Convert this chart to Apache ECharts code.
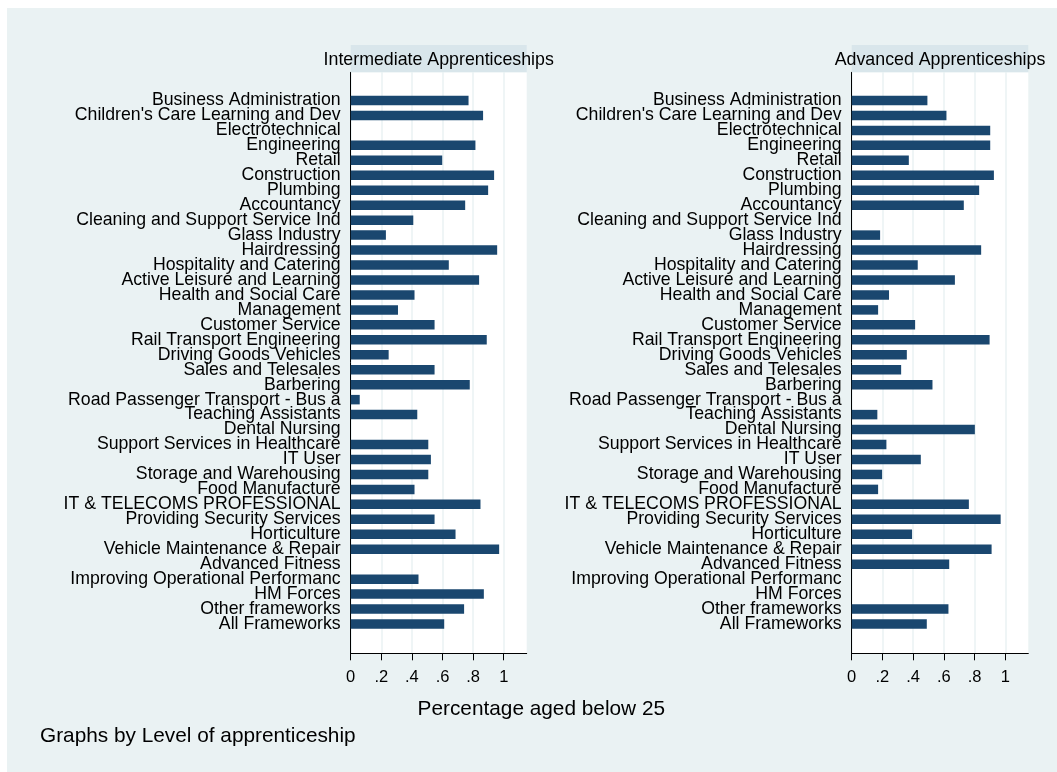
<!DOCTYPE html>
<html>
<head>
<meta charset="utf-8">
<script src="https://cdn.jsdelivr.net/npm/echarts@6/dist/echarts.min.js"></script>
<style>
html,body{margin:0;padding:0;background:#fff;}
#chart{width:1057px;height:772px;}
</style>
</head>
<body>
<div id="chart"></div>
<script>
const categories = [
  "Business Administration","Children's Care Learning and Dev","Electrotechnical","Engineering","Retail",
  "Construction","Plumbing","Accountancy","Cleaning and Support Service Ind","Glass Industry",
  "Hairdressing","Hospitality and Catering","Active Leisure and Learning","Health and Social Care","Management",
  "Customer Service","Rail Transport Engineering","Driving Goods Vehicles","Sales and Telesales","Barbering",
  "Road Passenger Transport - Bus a","Teaching Assistants","Dental Nursing","Support Services in Healthcare","IT User",
  "Storage and Warehousing","Food Manufacture","IT & TELECOMS PROFESSIONAL","Providing Security Services","Horticulture",
  "Vehicle Maintenance & Repair","Advanced Fitness","Improving Operational Performanc","HM Forces","Other frameworks",
  "All Frameworks"
];
const intermediate = [
  0.770,0.865,null,0.815,0.598,
  0.937,0.898,0.748,0.409,0.230,
  0.957,0.641,0.839,0.417,0.309,
  0.548,0.889,0.248,0.548,0.778,
  0.059,0.435,null,0.507,0.524,
  0.507,0.417,0.848,0.548,0.685,
  0.970,null,0.443,0.870,0.741,
  0.611
];
const advanced = [
  0.493,0.617,0.902,0.902,0.372,
  0.926,0.830,0.730,null,0.185,
  0.843,0.430,0.672,0.243,0.172,
  0.413,0.898,0.359,0.322,0.526,
  null,0.167,0.802,0.226,0.450,
  0.198,0.172,0.763,0.970,0.393,
  0.911,0.635,null,null,0.630,
  0.489
];
const panelTitles = ["Intermediate Apprenticeships","Advanced Apprenticeships"];
const tickValues = [0,0.2,0.4,0.6,0.8,1];
const tickLabels = ["0",".2",".4",".6",".8","1"];
const xTitle = "Percentage aged below 25";
const note = "Graphs by Level of apprenticeship";

const FONT = "'Liberation Sans', Arial, Helvetica, sans-serif";
const BAR = '#1a476f';
const BG = '#eaf2f3';
const STRIP = '#d9e6eb';
const XMAX = 1.15;

const panels = [
  {left:350.7, width:176, data:intermediate},
  {left:851.7, width:176.6, data:advanced}
];

const grid = [], xAxis = [], yAxis = [], series = [], graphic = [];
graphic.push({type:'rect', left:7, top:8, z:-100, shape:{width:1050, height:764}, style:{fill:BG}, silent:true});

panels.forEach((p, i) => {
  const gFrame = grid.length;
  grid.push({left:p.left, width:p.width, top:72.3, bottom:772-653.3, show:true, backgroundColor:'#fff', borderWidth:0, containLabel:false});
  const gBars = grid.length;
  grid.push({left:p.left, width:p.width, top:93.0, bottom:772-631.5, containLabel:false});

  xAxis.push({
    type:'value', gridIndex:gFrame, min:0, max:XMAX,
    axisLine:{show:true, onZero:false, lineStyle:{color:'#000', width:1}},
    axisTick:{show:true, length:7, customValues:tickValues, lineStyle:{color:'#000', width:1}},
    axisLabel:{show:true, customValues:tickValues, margin:16, fontFamily:FONT, fontSize:16.5, color:'#000',
      formatter:(v)=>{ const k = tickValues.findIndex(t=>Math.abs(t-v)<1e-6); return k>=0?tickLabels[k]:''; }},
    splitLine:{show:true, lineStyle:{color:BG, width:1.5}}
  });
  yAxis.push({
    type:'value', gridIndex:gFrame, min:0, max:1,
    axisLine:{show:true, lineStyle:{color:'#000', width:1}},
    axisTick:{show:false}, axisLabel:{show:false}, splitLine:{show:false}
  });
  const xb = xAxis.length;
  xAxis.push({type:'value', gridIndex:gBars, min:0, max:XMAX, show:false, splitLine:{show:false}});
  const yb = yAxis.length;
  yAxis.push({
    type:'category', gridIndex:gBars, data:categories, inverse:true,
    axisLine:{show:false}, axisTick:{show:false}, splitLine:{show:false},
    axisLabel:{show:true, interval:0, margin:10, fontFamily:FONT, fontSize:17.7, color:'#000', lineHeight:17, padding:[3,0,0,0]}
  });
  series.push({
    type:'bar', xAxisIndex:xb, yAxisIndex:yb, data:p.data, barWidth:9.5,
    itemStyle:{color:BAR}, silent:true, animation:false
  });
  graphic.push({type:'rect', left:p.left, top:45, shape:{width:p.width, height:27.3}, style:{fill:STRIP}, silent:true, z:1});
  graphic.push({type:'text', x:p.left + p.width/2, y:60, z:2, style:{text:panelTitles[i], fill:'#000', font:'17.8px ' + FONT, textAlign:'center', textVerticalAlign:'middle'}});
});

graphic.push({type:'text', x:541.3, y:709.5, z:2, style:{text:xTitle, fill:'#000', font:'20.8px ' + FONT, textAlign:'center', textVerticalAlign:'middle'}});
graphic.push({type:'text', x:40, y:736.5, z:2, style:{text:note, fill:'#000', font:'20.8px ' + FONT, textAlign:'left', textVerticalAlign:'middle'}});

const chart = echarts.init(document.getElementById('chart'), null, {renderer:'canvas'});
chart.setOption({
  backgroundColor:'#fff',
  animation:false,
  grid, xAxis, yAxis, series, graphic
});
</script>
</body>
</html>
